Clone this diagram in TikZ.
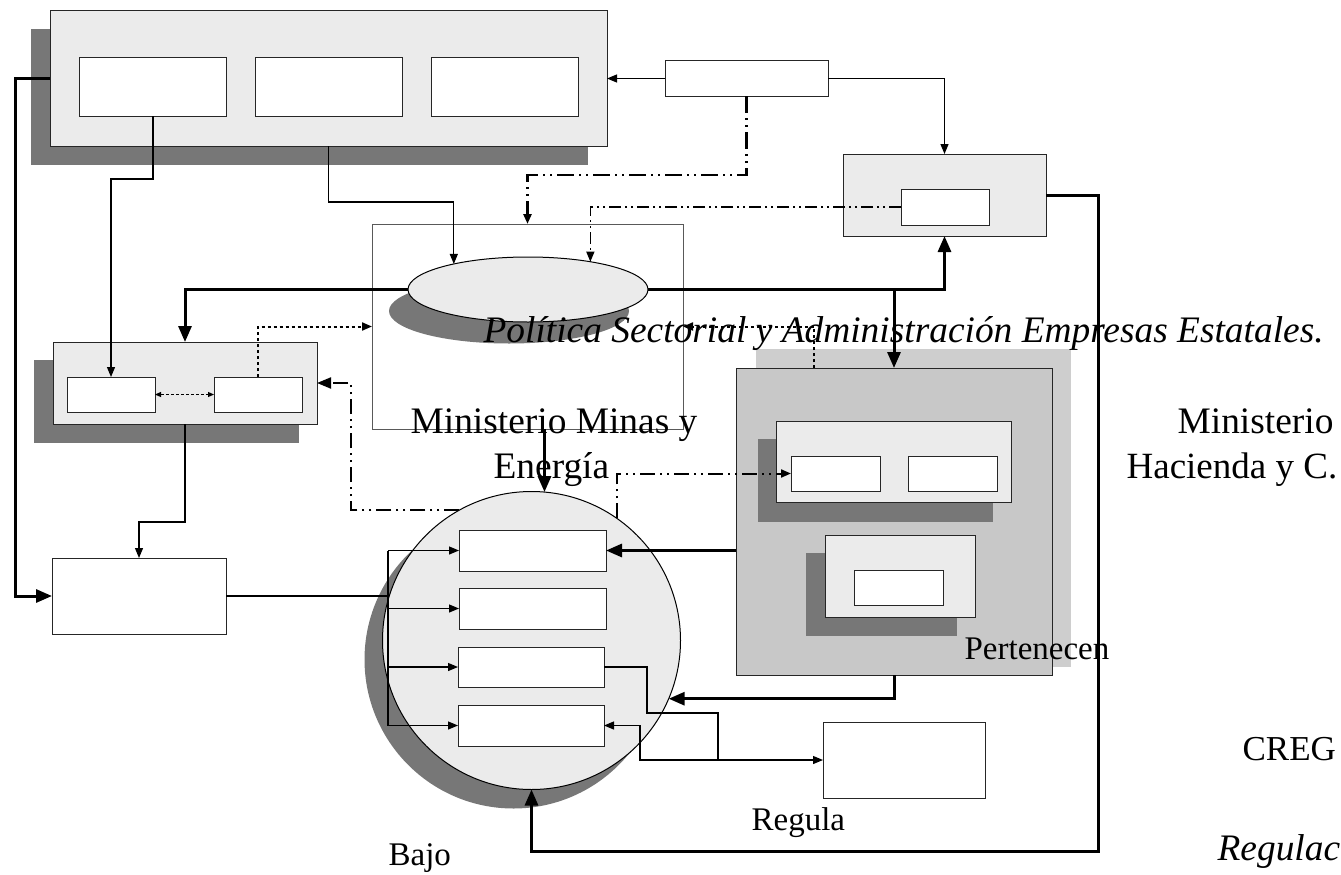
\documentclass[tikz,border=0pt]{standalone}
\usepackage{fontspec}
\setmainfont{Liberation Serif}
\usepackage{tikz}
\usetikzlibrary{arrows.meta,shapes.geometric}
\definecolor{boxgray}{RGB}{235,235,235}
\definecolor{shadegray}{RGB}{119,119,119}
\definecolor{midgray}{RGB}{200,200,200}
\definecolor{lightshade}{RGB}{206,206,206}

\begin{document}
\begin{tikzpicture}[>={Triangle[length=10pt,width=8pt]},x=1pt,y=-1pt,line width=1.2pt,
    graybox/.style={draw=black!85,fill=boxgray,line width=1pt,inner sep=0pt,outer sep=0pt},
    whitebox/.style={draw=black!85,fill=white,line width=1pt,inner sep=0pt,outer sep=0pt},
    thk/.style={line width=3pt,>={Triangle[length=16pt,width=13pt]}},
    ddthick/.style={line width=2.5pt,dash pattern=on 17pt off 5pt on 2pt off 5pt on 2pt off 5pt},
    ddmid/.style={line width=2pt,dash pattern=on 15pt off 5pt on 2pt off 5pt on 2pt off 5pt},
    ddthin/.style={line width=1.2pt,dash pattern=on 12pt off 4pt on 2pt off 4pt on 2pt off 4pt},
    dotline/.style={line width=2pt,dash pattern=on 3pt off 3pt},
    dashline/.style={line width=1pt,dash pattern=on 3pt off 2pt,>={Triangle[length=6pt,width=5pt]}},
    big/.style={font=\fontsize{37.4}{44}\selectfont,anchor=base west,inner sep=0pt},
    small/.style={font=\fontsize{33}{40}\selectfont,anchor=base west,inner sep=0pt}]
    \useasboundingbox (0,0) rectangle (1341,875);

    \fill[shadegray] (31,29) rectangle (588,165);
    \node[graybox,minimum width=557pt,minimum height=135pt] (top) at (328.5,78.5) {};
    \node[whitebox,minimum width=147pt,minimum height=58pt] (ta) at (153,87) {};
    \node[whitebox,minimum width=147pt,minimum height=58pt] (tb) at (328.5,87) {};
    \node[whitebox,minimum width=147pt,minimum height=58pt] (tc) at (504.5,87) {};

    \node[whitebox,minimum width=163pt,minimum height=35pt] (hac) at (746.5,78.5) {};
    \node[graybox,minimum width=203pt,minimum height=82pt] (rbox) at (944.5,195) {};
    \node[whitebox,minimum width=88pt,minimum height=36pt] (rin) at (945,207) {};

    \node[whitebox,draw=black!65,minimum width=311pt,minimum height=205pt] (mme) at (527.5,326.5) {};
    \fill[shadegray] (509,311) ellipse[x radius=120pt,y radius=32.5pt];
    \node[graybox,draw=black,ellipse,minimum width=240pt,minimum height=65pt] (ell) at (528,289.5) {};

    \fill[shadegray] (34,360) rectangle (299,443);
    \node[graybox,minimum width=264pt,minimum height=82pt] (lbox) at (185,383) {};
    \node[whitebox,minimum width=88pt,minimum height=35pt] (la) at (111,394.5) {};
    \node[whitebox,minimum width=88pt,minimum height=35pt] (lb) at (258,394.5) {};

    \node[whitebox,minimum width=174pt,minimum height=76pt] (bl) at (139,596) {};

    \fill[shadegray] (513.5,659.5) circle[radius=149pt];
    \node[graybox,draw=black,circle,minimum size=298pt] (circ) at (531.5,640.5) {};
    \node[whitebox,minimum width=147pt,minimum height=41pt] (c1) at (532.5,550.5) {};
    \node[whitebox,minimum width=147pt,minimum height=41pt] (c2) at (532.5,608.5) {};
    \node[whitebox,minimum width=146pt,minimum height=40pt] (c3) at (531,667) {};
    \node[whitebox,minimum width=146pt,minimum height=41pt] (c4) at (531,725.5) {};

    \fill[lightshade] (756,349) rectangle (1071,667);
    \node[graybox,fill=midgray,minimum width=316pt,minimum height=307pt] (pbig) at (894,521.5) {};
    \fill[shadegray] (758,439) rectangle (993,522);
    \node[graybox,minimum width=235pt,minimum height=81pt] (pu) at (893.5,461.5) {};
    \node[whitebox,minimum width=89pt,minimum height=35pt] (pu1) at (835.5,473.5) {};
    \node[whitebox,minimum width=89pt,minimum height=35pt] (pu2) at (953,473.5) {};
    \fill[shadegray] (806,553) rectangle (957,636);
    \node[graybox,minimum width=150pt,minimum height=82pt] (pl) at (900,576) {};
    \node[whitebox,minimum width=89pt,minimum height=35pt] (pl1) at (898.5,587.5) {};

    \node[whitebox,minimum width=162pt,minimum height=76pt] (creg) at (904,760) {};

    \draw[thk,->] (top.west) -- ++(-35,0) |- (bl.west);
    \draw[->] (hac.west) -- (top.east);
    \draw[->] (hac.east) -| (rbox.north);
    \draw[ddthick,->] (hac.south) -- ++(0,79) -| (mme.north);
    \draw[ddthin,->] (rin.west) -| (ell.24);
    \draw[->] (top.south) -- ++(0,56) -| (ell.161);
    \draw[thk,->] (ell.west) -| (lbox.north);
    \draw[thk,->] (ell.east) -| (rbox.south);
    \draw[thk,->] (pbig.north |- ell.east) -- (pbig.north);
    \draw[->] (ta.south) -- ++(0,63) -| (la.north);
    \draw[dashline,<->] (la.east) -- (lb.west);
    \draw[dotline,->] (lb.north) |- (mme.west);
    \draw[->] (lbox.south) -- ++(0,98) -| (bl.north);

    \coordinate (bus) at (388,0);
    \draw (bl.east) -- (bl.east -| bus);
    \draw (c1.west -| bus) -- (c4.west -| bus);
    \draw[->] (c1.west -| bus) -- (c1.west);
    \draw[->] (c2.west -| bus) -- (c2.west);
    \draw[->] (c3.west -| bus) -- (c3.west);
    \draw[->] (c4.west -| bus) -- (c4.west);

    \draw[thk,->] (circ.85 |- mme.south) -- (circ.85);
    \coordinate (loop) at (1098,851);
    \draw[thk,->] (rbox.east) -| (loop) -| (circ.south);
    \draw[thk,->] (c1.east -| pbig.west) -- (c1.east);
    \draw[thk,->] (pbig.south) |- (circ.-23);
    \draw[->] (c3.east) -- ++(43,0) |- ++(71,46) -- ++(0,47) coordinate (jn) -- (creg.west);
    \draw[->] (jn) -- ++(-78,0) |- (c4.east);
    \draw[ddmid,->] (circ.55) |- (pu1.west);
    \draw[ddmid,>={Triangle[length=14pt,width=11pt]},->] (circ.119) -- ++(-108,0) |- (lbox.east);
    \draw[dotline,->] ([xshift=-80pt]pbig.north) |- (mme.east);

    \node[big] (pol) at (483,342) {\itshape Política Sectorial y Administración Empresas Estatales.};
    \node[big] (mm1) at (410,433) {Ministerio Minas y};
    \node[big] (mm2) at (493,478) {Energía};
    \node[big] (mh1) at (1177,433) {Ministerio};
    \node[big,font=\fontsize{37}{44}\selectfont] (mh2) at (1126,478) {Hacienda y C.};
    \node[small,font=\fontsize{35}{42}\selectfont] (crg) at (1242,760) {CREG};
    \node[small] (per) at (964,659) {Pertenecen};
    \node[small] (reg) at (751,830) {Regula};
    \node[small] (bajo) at (388,865) {Bajo};
    \node[big] (regc) at (1217,860) {\itshape Regulac};
\end{tikzpicture}
\end{document}
